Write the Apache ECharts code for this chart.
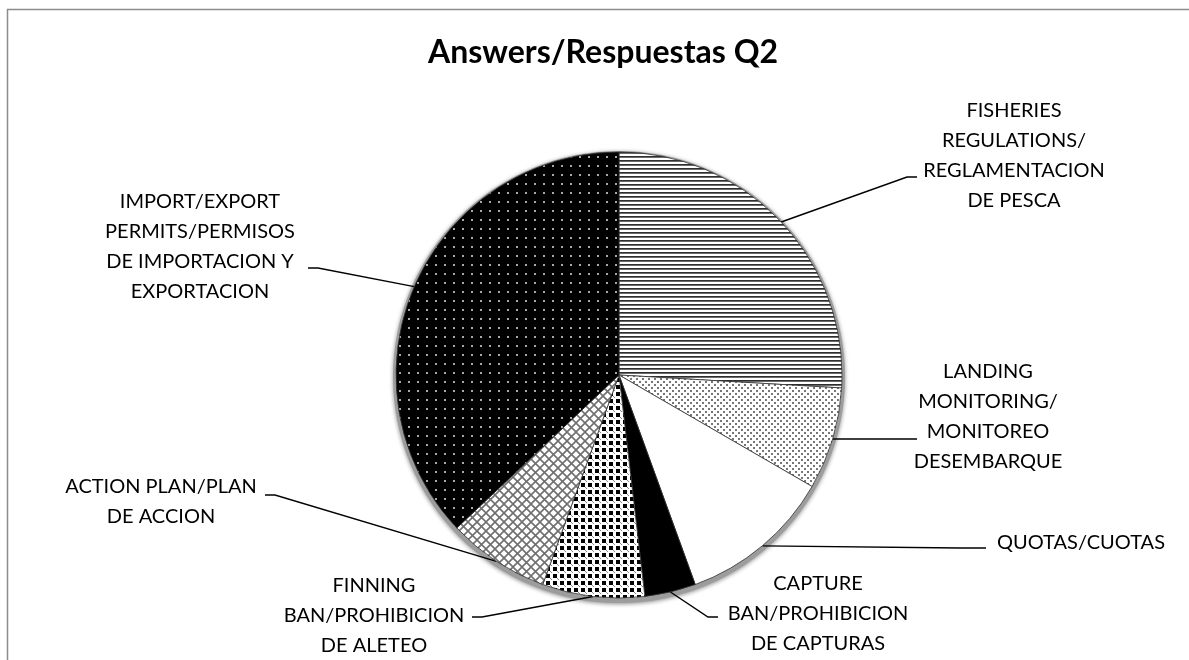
<!DOCTYPE html>
<html><head><meta charset="utf-8">
<script src="https://cdn.jsdelivr.net/npm/echarts@6/dist/echarts.min.js"></script>
<style>html,body{margin:0;padding:0;background:#fff}#c{width:1189px;height:660px}</style>
</head><body><div id="c"></div>
<script>
// ---- data ----
const categories = [
  'FISHERIES\nREGULATIONS/\nREGLAMENTACION\nDE PESCA',
  'LANDING\nMONITORING/\nMONITOREO\nDESEMBARQUE',
  'QUOTAS/CUOTAS',
  'CAPTURE\nBAN/PROHIBICION\nDE CAPTURAS',
  'FINNING\nBAN/PROHIBICION\nDE ALETEO',
  'ACTION PLAN/PLAN\nDE ACCION',
  'IMPORT/EXPORT\nPERMITS/PERMISOS\nDE IMPORTACION Y\nEXPORTACION'
];
const answers = [7, 2, 3, 1, 2, 2, 10];
const chartTitle = 'Answers/Respuestas Q2';

// ---- layout (label placement, not data) ----
const labelPlacement = [
  {x: 1014, y: 156, elbow: [907, 177], end: [917, 177]},
  {x: 988,  y: 417, elbow: [905, 439], end: [917, 439]},
  {x: 1081, y: 543, elbow: [960, 548], end: [986, 548]},
  {x: 818,  y: 614, elbow: [708, 617], end: [718, 617]},
  {x: 374,  y: 616, elbow: [482, 617], end: [472, 617]},
  {x: 161,  y: 502, elbow: [275, 495], end: [265, 495]},
  {x: 200,  y: 247, elbow: [318, 268], end: [308, 268]}
];

function pat(size, draw) {
  const c = document.createElement('canvas');
  c.width = size; c.height = size;
  const g = c.getContext('2d');
  draw(g, size);
  return {image: c, repeat: 'repeat'};
}
const patterns = [
  pat(4, (g) => { g.fillStyle = '#fff'; g.fillRect(0,0,4,4); g.fillStyle = '#2e2e2e'; g.fillRect(0,0,4,1); g.fillStyle = '#6a6a6a'; g.fillRect(0,1,4,1); }),
  pat(6, (g) => { g.fillStyle = '#fff'; g.fillRect(0,0,6,6); g.fillStyle = '#777'; g.fillRect(0,0,2,2); g.fillRect(3,3,2,2); }),
  '#ffffff',
  '#000000',
  pat(7, (g) => { g.fillStyle = '#fff'; g.fillRect(0,0,7,7); g.fillStyle = '#000'; g.fillRect(0,0,4,4); g.fillStyle = '#888'; g.fillRect(5,5,1,1); g.fillRect(4,4,1,1); }),
  pat(9, (g) => { g.fillStyle = '#fff'; g.fillRect(0,0,9,9); g.strokeStyle = '#707070'; g.lineWidth = 1.6;
    g.beginPath(); g.moveTo(-1,-1); g.lineTo(10,10); g.moveTo(10,-1); g.lineTo(-1,10); g.stroke(); }),
  pat(9, (g) => { g.fillStyle = '#000'; g.fillRect(0,0,9,9); g.fillStyle = '#a8a8a8'; g.fillRect(3,3,2,2); })
];

const chart = echarts.init(document.getElementById('c'), null, {renderer: 'canvas'});
chart.setOption({
  backgroundColor: '#ffffff',
  animation: false,
  title: {
    text: chartTitle, left: 598, top: 32, textAlign: 'center',
    textStyle: {fontFamily: 'Lato', fontWeight: 'bold', fontSize: 32, color: '#000'}
  },
  graphic: [
    {type: 'line', shape: {x1: 7, y1: 9.5, x2: 1189, y2: 9.5}, style: {stroke: '#8c8c8c', lineWidth: 1.5}, silent: true},
    {type: 'line', shape: {x1: 7.5, y1: 9, x2: 7.5, y2: 660}, style: {stroke: '#8c8c8c', lineWidth: 1.5}, silent: true}
  ],
  series: [
    {
      type: 'pie', silent: true, center: [619, 377], radius: 226, z: 1,
      label: {show: false}, labelLine: {show: false},
      itemStyle: {color: '#9c9c9c', shadowBlur: 4, shadowOffsetY: 1, shadowColor: 'rgba(0,0,0,0.45)'},
      data: [{value: 1, name: 'rim'}]
    },
    {
      type: 'pie', z: 2, center: [619, 375], radius: 223, startAngle: 90, clockwise: true,
      silent: true,
      itemStyle: {borderColor: '#333', borderWidth: 0.8},
      label: {
        show: true, position: 'outside', color: '#000', fontFamily: 'Lato', fontSize: 20,
        lineHeight: 30, align: 'center'
      },
      labelLine: {show: true, lineStyle: {color: '#000', width: 1.4}},
      labelLayout: function (p) {
        const lp = labelPlacement[p.dataIndex];
        const start = p.labelLinePoints ? p.labelLinePoints[0] : lp.elbow;
        return {
          x: lp.x, y: lp.y, align: 'center', verticalAlign: 'middle',
          labelLinePoints: [start, lp.elbow, lp.end]
        };
      },
      data: categories.map((name, i) => ({name: name, value: answers[i], itemStyle: {color: patterns[i]}}))
    }
  ]
});
</script>
</body></html>
